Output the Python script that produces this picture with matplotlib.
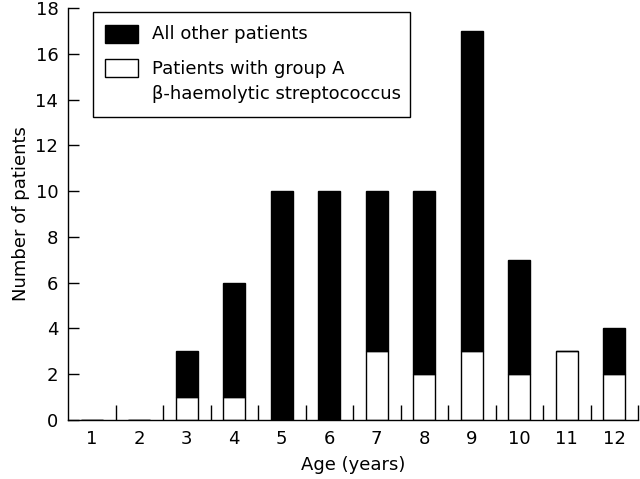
import matplotlib
matplotlib.use("Agg")
import matplotlib.pyplot as plt
from matplotlib.patches import Rectangle

ages = [1, 2, 3, 4, 5, 6, 7, 8, 9, 10, 11, 12]
gas_patients = [0, 0, 1, 1, 0, 0, 3, 2, 3, 2, 3, 2]
other_patients = [0, 0, 2, 5, 10, 10, 7, 8, 14, 5, 0, 2]
y_ticks = [0, 2, 4, 6, 8, 10, 12, 14, 16, 18]
legend_labels = ["All other patients", "Patients with group A\nβ-haemolytic streptococcus"]

plt.rcParams['font.family'] = ['DejaVu Sans']
W, H = 640, 479
fig = plt.figure(figsize=(6.4, 4.79), dpi=100)
ax = fig.add_axes([68 / W, 1 - 420 / H, 570 / W, 412 / H])

bw = 0.47
ax.bar(ages, gas_patients, width=bw, color="white", edgecolor="black", linewidth=1)
ax.bar(ages, other_patients, width=bw, bottom=gas_patients, color="black",
       edgecolor="black", linewidth=1)

ax.set_xlim(0.5, 12.5)
ax.set_ylim(0, 18)
ax.set_yticks(y_ticks)
ax.set_xticks(ages)
ax.set_xticks([a + 0.5 for a in ages], minor=True)
ax.tick_params(axis="x", which="major", length=0, pad=7, labelsize=13)
ax.tick_params(axis="x", which="minor", direction="in", length=11, width=1)
ax.tick_params(axis="y", direction="in", length=8, width=1, labelsize=13, pad=7)
for s in ["top", "right"]:
    ax.spines[s].set_visible(False)
for s in ["left", "bottom"]:
    ax.spines[s].set_linewidth(1)
ax.set_xlabel("Age (years)", fontsize=13, labelpad=6)
ax.set_ylabel("Number of patients", fontsize=13, labelpad=4)

# legend box (pixel coordinates converted to figure fraction)
def fx(x):
    return x / W

def fy(y):
    return 1 - y / H

fig.patches.append(Rectangle((fx(93), fy(117)), fx(410) - fx(93), fy(12) - fy(117),
                             transform=fig.transFigure, facecolor="white",
                             edgecolor="black", linewidth=1, zorder=5))
fig.patches.append(Rectangle((fx(105), fy(43)), fx(138) - fx(105), fy(25) - fy(43),
                             transform=fig.transFigure, facecolor="black",
                             edgecolor="black", linewidth=1, zorder=6))
fig.patches.append(Rectangle((fx(105), fy(77)), fx(138) - fx(105), fy(59) - fy(77),
                             transform=fig.transFigure, facecolor="white",
                             edgecolor="black", linewidth=1, zorder=6))
fig.text(fx(152), fy(34), legend_labels[0], fontsize=13, va="center", ha="left", zorder=7)
l1, l2 = legend_labels[1].split("\n")
fig.text(fx(152), fy(69), l1, fontsize=13, va="center", ha="left", zorder=7)
fig.text(fx(152), fy(94), l2, fontsize=13, va="center", ha="left", zorder=7)

fig.savefig("out.png", dpi=100)
